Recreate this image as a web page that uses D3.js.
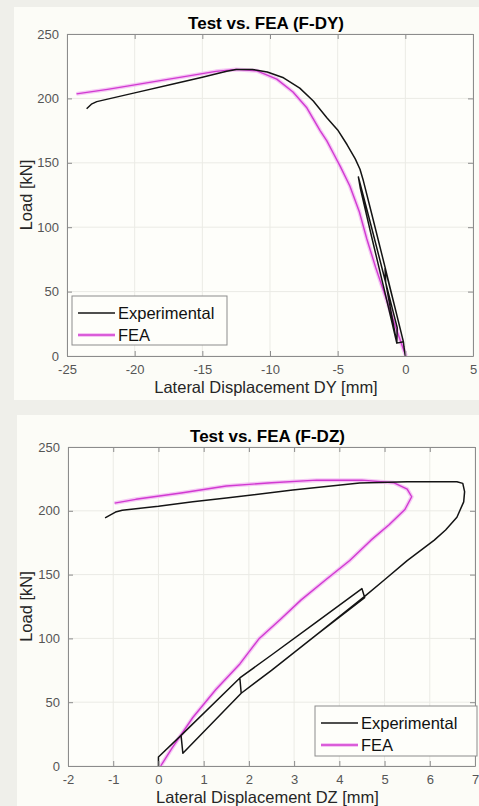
<!DOCTYPE html>
<html>
<head>
<meta charset="utf-8">
<script src="https://cdn.jsdelivr.net/npm/d3@7"></script>
<style>
  body { margin: 0; background: #efefea; }
  svg { display: block; font-family: "Liberation Sans", Arial, sans-serif; }
</style>
</head>
<body>
<svg id="chart" width="479" height="806"></svg>
<script>
// ticks
const loadTicks = [0, 50, 100, 150, 200, 250];
const dyTicks = [-25, -20, -15, -10, -5, 0, 5];
const dzTicks = [-2, -1, 0, 1, 2, 3, 4, 5, 6, 7];
const seriesNames = ["Experimental", "FEA"];

// F-DY, experimental
const dyExpDisp = [0, -0.1, -0.14, -0.8, -1.5, -1.45, -0.63, -0.6, -1.5, -2.5, -3.47, -3.32, -2.5, -1.5, -0.63, -0.14,
  -1.5, -2.5, -3.1, -3.35, -3.7, -4.3, -5.0, -5.8, -6.8, -7.8, -9, -10.2, -11.3, -12.5, -13.2, -15, -17, -20, -22.8, -23.2, -23.55];
const dyExpLoad = [0, 7, 11, 39, 68, 57, 10, 22, 59, 100, 139, 130, 93, 49, 10, 11,
  69, 111, 136, 145, 153, 164, 175.5, 185, 198, 208, 216, 220.5, 222.5, 222.5, 221, 216.5, 211.5, 204.3, 197.5, 195.5, 192];

// F-DY, FEA
const dyFeaDisp = [0.05, -0.2, -0.7, -1.4, -2.2, -2.85, -3.4, -4.1, -4.8, -5.3, -5.8, -6.3, -7.3, -8.3, -9.5, -11, -12.5, -14, -16, -18, -20, -22, -24.3];
const dyFeaLoad = [0, 7, 22, 44, 69, 91, 112, 132, 147, 157, 167, 175, 193, 205, 215, 221.5, 222.5, 221, 217.5, 214, 210.5, 207, 203.5];

// F-DZ, experimental
const dzExpDisp = [0, 0, 0.5, 1.8, 1.83, 0.54, 0.5, 1.8, 2.5, 3.5, 4.5, 4.56, 3.5, 2.5, 1.83, 2.5, 3.5, 4.56,
  5, 5.5, 6.1, 6.35, 6.6, 6.75, 6.77, 6.73, 6.6, 5.5, 4.45, 2.97, 1.5, 0.76, 0, -0.8, -0.95, -1.18];
const dzExpLoad = [0, 7, 24, 69, 57, 10, 24, 69, 87, 113, 139, 132, 103, 75, 57, 75, 103, 133,
  146, 161, 177, 185, 195, 207, 215, 221.5, 222.8, 222.8, 221.8, 216.3, 210, 207, 203.5, 200.5, 199, 194.5];

// F-DZ, FEA
const dzFeaDisp = [0.05, 0.3, 0.76, 1.27, 1.8, 2.23, 2.7, 3.15, 3.7, 4.23, 4.7, 5.1, 5.45, 5.6, 5.5, 5.2, 4.5, 3.5, 2.5, 1.5, 0.5, -0.5, -0.97];
const dzFeaLoad = [0, 14, 38, 60, 80, 100, 115, 130, 146, 161, 177, 189, 201, 211, 217, 222, 224, 224, 222, 219.4, 214, 209, 206];

const svg = d3.select("#chart");
const axisColor = "#8c8c8c";
const blackLine = "#141414";
const magenta = "#d13ad1";
const halo = "#f3b9f3";

function drawPanel(p) {
  const g = svg.append("g");

  g.append("rect")
    .attr("x", p.panel[0]).attr("y", p.panel[1])
    .attr("width", p.panel[2]).attr("height", p.panel[3])
    .attr("fill", "#fcfcf7");

  const x = d3.scaleLinear().domain(d3.extent(p.xTicks)).range([p.left, p.right]);
  const y = d3.scaleLinear().domain(d3.extent(loadTicks)).range([p.bottom, p.top]);

  g.append("rect")
    .attr("x", p.left).attr("y", p.top)
    .attr("width", p.right - p.left).attr("height", p.bottom - p.top)
    .attr("fill", "#fefefa");

  // grid
  g.append("g").selectAll("line").data(p.xTicks).join("line")
    .attr("x1", d => x(d)).attr("x2", d => x(d))
    .attr("y1", p.top).attr("y2", p.bottom)
    .attr("stroke", "#ebebe5");
  g.append("g").selectAll("line").data(loadTicks).join("line")
    .attr("x1", p.left).attr("x2", p.right)
    .attr("y1", d => y(d)).attr("y2", d => y(d))
    .attr("stroke", "#ebebe5");

  // curves
  const line = (xs, ys) => d3.line().x((d, i) => x(xs[i])).y((d, i) => y(ys[i]))(xs);

  g.append("path").attr("d", line(p.feaDisp, p.feaLoad))
    .attr("fill", "none").attr("stroke", halo).attr("stroke-width", 4)
    .attr("stroke-linejoin", "round").attr("opacity", 0.8);
  g.append("path").attr("d", line(p.feaDisp, p.feaLoad))
    .attr("fill", "none").attr("stroke", magenta).attr("stroke-width", 1.4)
    .attr("stroke-linejoin", "round");
  g.append("path").attr("d", line(p.expDisp, p.expLoad))
    .attr("fill", "none").attr("stroke", blackLine).attr("stroke-width", 1.5)
    .attr("stroke-linejoin", "round");

  // axes, ticks pointing inward on all four sides
  const fmt = d => String(d);   // plain hyphen minus, like the original
  const styleAxis = sel => {
    sel.selectAll("path, line").attr("stroke", axisColor);
    sel.selectAll("text").attr("fill", "#555").attr("font-size", 13)
      .attr("font-family", "Liberation Sans, Arial, sans-serif");
  };
  g.append("g").attr("transform", `translate(0,${p.bottom})`)
    .call(d3.axisBottom(x).tickValues(p.xTicks).tickFormat(fmt).tickSize(-5).tickSizeOuter(0).tickPadding(9))
    .call(styleAxis);
  g.append("g").attr("transform", `translate(0,${p.top})`)
    .call(d3.axisTop(x).tickValues(p.xTicks).tickSize(-5).tickSizeOuter(0).tickFormat(""))
    .call(styleAxis);
  g.append("g").attr("transform", `translate(${p.left},0)`)
    .call(d3.axisLeft(y).tickValues(loadTicks).tickFormat(fmt).tickSize(-5).tickSizeOuter(0).tickPadding(8))
    .call(styleAxis);
  g.append("g").attr("transform", `translate(${p.right},0)`)
    .call(d3.axisRight(y).tickValues(loadTicks).tickSize(-5).tickSizeOuter(0).tickFormat(""))
    .call(styleAxis);

  const cx = (p.left + p.right) / 2 - 4;

  g.append("text")
    .attr("x", cx).attr("y", p.top - 5)
    .attr("text-anchor", "middle")
    .attr("font-size", 17).attr("font-weight", "bold").attr("fill", "#000")
    .text(p.title);

  g.append("text")
    .attr("x", cx).attr("y", p.bottom + 37)
    .attr("text-anchor", "middle")
    .attr("font-size", 16.5).attr("fill", "#262626")
    .text(p.xLabel);

  g.append("text")
    .attr("transform", `translate(32,${(p.top + p.bottom) / 2}) rotate(-90)`)
    .attr("text-anchor", "middle")
    .attr("font-size", 16.5).attr("fill", "#262626")
    .text("Load [kN]");

  // legend
  const lg = g.append("g").attr("transform", `translate(${p.legend[0]},${p.legend[1]})`);
  lg.append("rect")
    .attr("width", p.legend[2]).attr("height", p.legend[3])
    .attr("fill", "#fefefa").attr("stroke", axisColor);
  const rows = [
    { name: seriesNames[0], color: blackLine, glow: null },
    { name: seriesNames[1], color: magenta, glow: halo }
  ];
  rows.forEach((r, i) => {
    const ly = 17 + i * 22;
    if (r.glow) {
      lg.append("line").attr("x1", 6).attr("x2", 43).attr("y1", ly).attr("y2", ly)
        .attr("stroke", r.glow).attr("stroke-width", 4).attr("opacity", 0.8);
    }
    lg.append("line").attr("x1", 6).attr("x2", 43).attr("y1", ly).attr("y2", ly)
      .attr("stroke", r.color).attr("stroke-width", 1.5);
    lg.append("text").attr("x", 46).attr("y", ly + 6)
      .attr("font-size", 16.5).attr("fill", "#111")
      .text(r.name);
  });
}

drawPanel({
  panel: [14, 7, 465, 393],
  left: 67, right: 473, top: 34, bottom: 356,
  xTicks: dyTicks,
  title: "Test vs. FEA (F-DY)",
  xLabel: "Lateral Displacement DY [mm]",
  expDisp: dyExpDisp, expLoad: dyExpLoad,
  feaDisp: dyFeaDisp, feaLoad: dyFeaLoad,
  legend: [72, 296, 155, 49]
});

drawPanel({
  panel: [17, 415, 462, 391],
  left: 68, right: 475, top: 447, bottom: 766,
  xTicks: dzTicks,
  title: "Test vs. FEA (F-DZ)",
  xLabel: "Lateral Displacement DZ [mm]",
  expDisp: dzExpDisp, expLoad: dzExpLoad,
  feaDisp: dzFeaDisp, feaLoad: dzFeaLoad,
  legend: [315, 706, 162, 50]
});
</script>
</body>
</html>
